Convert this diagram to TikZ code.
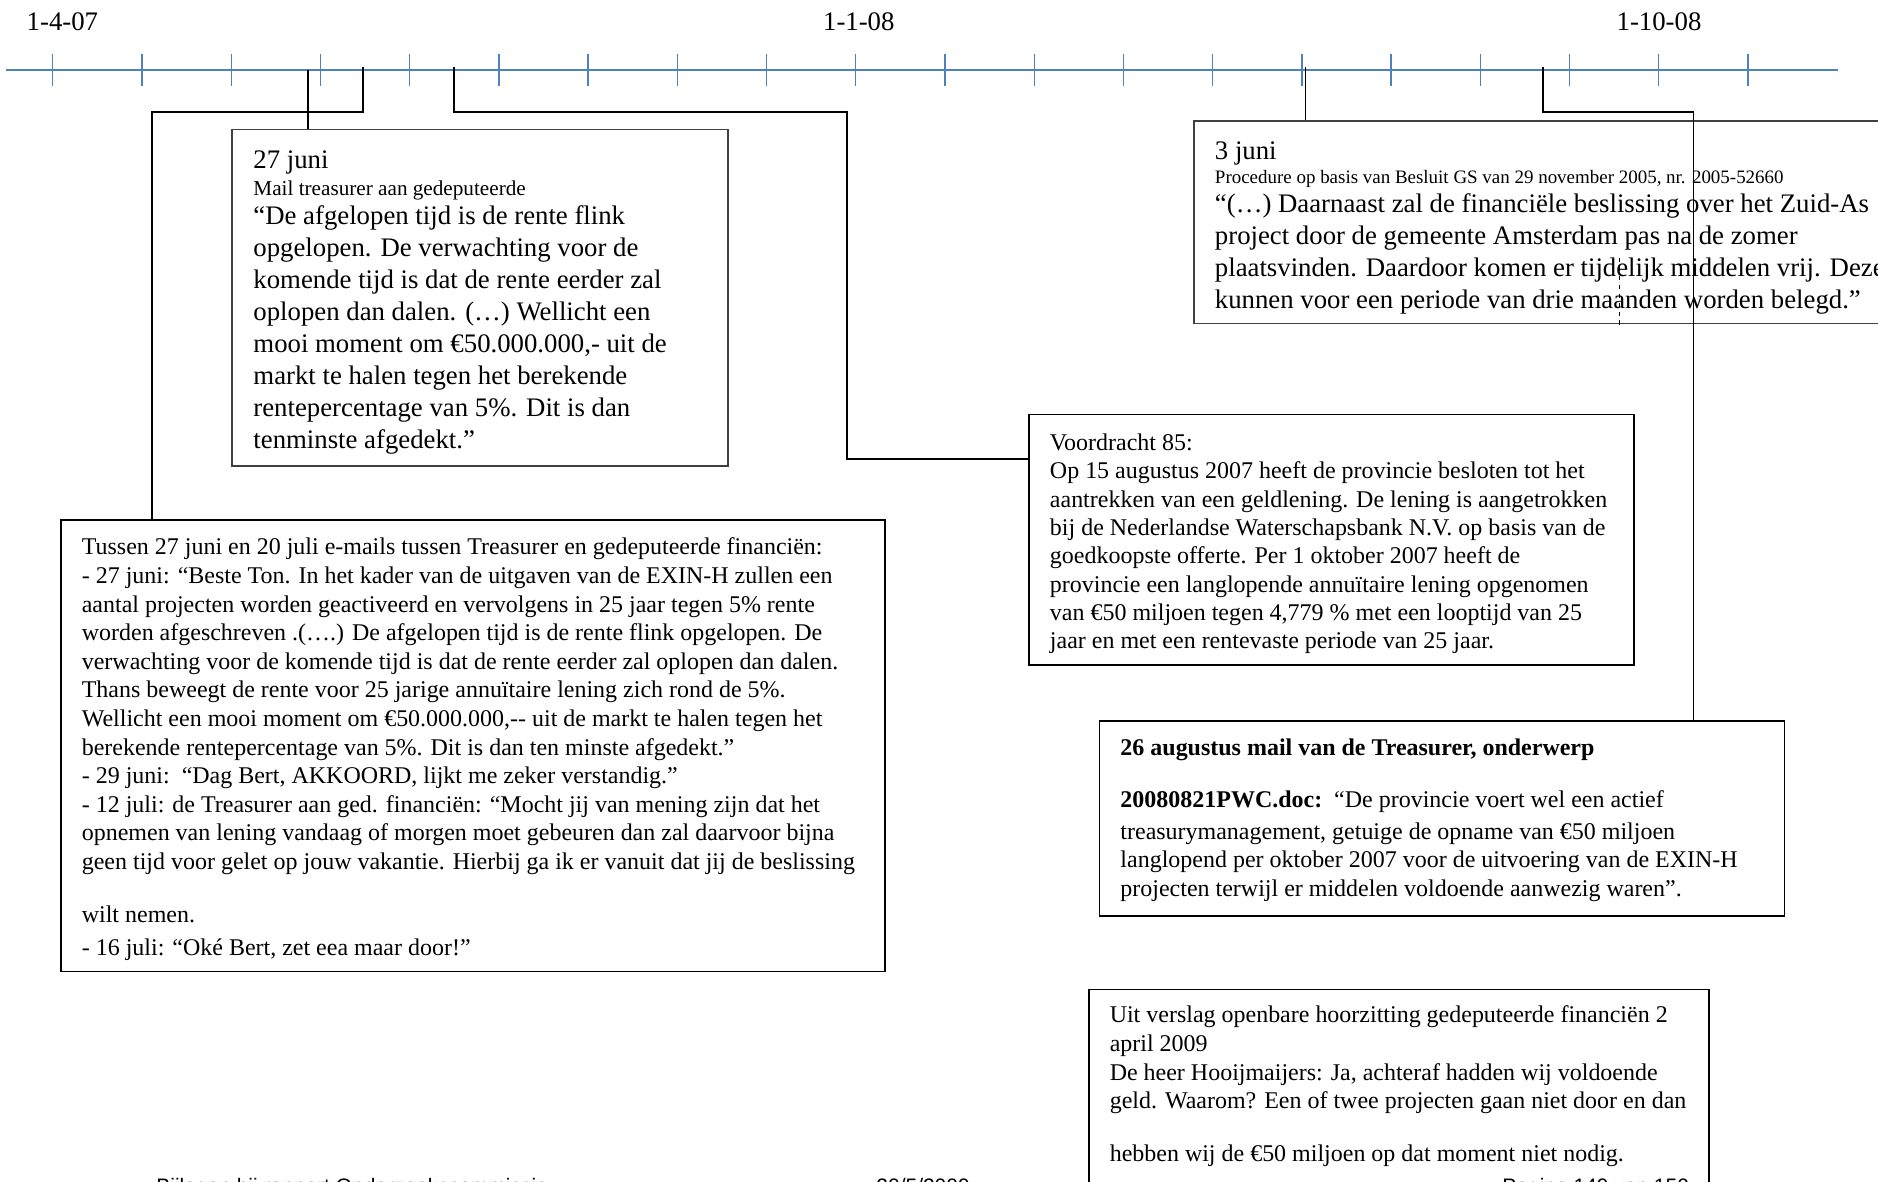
\documentclass[tikz,border=0pt]{standalone}
\usepackage{fontspec}
\setmainfont{Liberation Serif}
\setsansfont{Liberation Sans}
\usetikzlibrary{fit}
\definecolor{tlblue}{RGB}{79,129,189}
\begin{document}
\begin{tikzpicture}[x=0.44835pt,y=-0.44835pt,
  tl/.style={draw=tlblue, line width=1.1pt},
  tk/.style={draw=tlblue, line width=0.6pt},
  conn/.style={draw=black, line width=0.75pt},
  box/.style={draw=black, line width=0.75pt, inner sep=0pt},
  graybox/.style={draw=black!75, line width=0.8pt, inner sep=0pt},
  dashline/.style={draw=black, line width=0.4pt, dash pattern=on 2pt off 2pt},
  lbl/.style={inner sep=0pt, anchor=base west, font=\fontsize{12}{14.38}\selectfont},
  para/.style={inner sep=0pt, anchor=north west, align=left},
  foot/.style={inner sep=0pt, anchor=base west, font=\sffamily\fontsize{9.4}{11}\selectfont}]
\useasboundingbox (0,0) rectangle (1878,1181);
\clip (0,0) rectangle (1878,1181);

% timeline
\node[lbl] (d0) at (26.3,31) {1-4-07};
\node[lbl, anchor=base] (d9) at (858.8,31) {1-1-08};
\node[lbl, anchor=base] (d18) at (1659,31) {1-10-08};
\draw[tl] (6,70) -- (1838,70);
\foreach \i in {0,...,19} \draw[tk] ({52.8+89.22*\i},54) -- ({52.8+89.22*\i},86);

% boxes
\coordinate (b1tl) at (232.3,129.4); \coordinate (b1br) at (728.2,466);
\node[graybox, fit=(b1tl)(b1br)] (b1) {};
\coordinate (b2tl) at (61,519.8); \coordinate (b2br) at (885,971.5);
\node[box, fit=(b2tl)(b2br)] (b2) {};
\coordinate (b3tl) at (1194.1,121); \coordinate (b3br) at (1900,323.4);
\node[graybox, fit=(b3tl)(b3br)] (b3) {};
\coordinate (b4tl) at (1028.8,414.4); \coordinate (b4br) at (1633.7,664.9);
\node[box, fit=(b4tl)(b4br)] (b4) {};
\coordinate (b5tl) at (1099.5,721); \coordinate (b5br) at (1784.6,916);
\node[box, fit=(b5tl)(b5br)] (b5) {};
\coordinate (b6tl) at (1088.7,989.5); \coordinate (b6br) at (1709,1200);
\node[box, fit=(b6tl)(b6br)] (b6) {};

% box 1 text
\node[lbl] (b1d) at (253,168.5) {27 juni};
\node[lbl, font=\fontsize{9.5}{11}\selectfont] (b1s) at (253,196) {Mail treasurer aan gedeputeerde};
\node[para, font=\fontsize{12}{14.38}\selectfont] (b1q) at (253,201.45) {\strut “De afgelopen tijd is de rente flink\\
opgelopen. De verwachting voor de\\
komende tijd is dat de rente eerder zal\\
oplopen dan dalen. (…) Wellicht een\\
mooi moment om €50.000.000,- uit de\\
markt te halen tegen het berekende\\
rentepercentage van 5\%. Dit is dan\\
tenminste afgedekt.”};

% box 2 text
\node[para, font=\fontsize{10.75}{12.82}\selectfont] (b2t) at (81.4,534.4) {\strut Tussen 27 juni en 20 juli e-mails tussen Treasurer en gedeputeerde financiën:\\
- 27 juni: “Beste Ton. In het kader van de uitgaven van de EXIN-H zullen een\\
aantal projecten worden geactiveerd en vervolgens in 25 jaar tegen 5\% rente\\
worden afgeschreven .(….) De afgelopen tijd is de rente flink opgelopen. De\\
verwachting voor de komende tijd is dat de rente eerder zal oplopen dan dalen.\\
Thans beweegt de rente voor 25 jarige annuïtaire lening zich rond de 5\%.\\
Wellicht een mooi moment om €50.000.000,-{}- uit de markt te halen tegen het\\
berekende rentepercentage van 5\%. Dit is dan ten minste afgedekt.”\\
- 29 juni:\ \ “Dag Bert, AKKOORD, lijkt me zeker verstandig.”\\
- 12 juli: de Treasurer aan ged. financiën: “Mocht jij van mening zijn dat het\\
opnemen van lening vandaag of morgen moet gebeuren dan zal daarvoor bijna\\
geen tijd voor gelet op jouw vakantie. Hierbij ga ik er vanuit dat jij de beslissing};
\node[lbl, font=\fontsize{10.75}{12.82}\selectfont] (b2w) at (81.4,922.2) {wilt nemen.};
\node[lbl, font=\fontsize{10.75}{12.82}\selectfont] (b2l) at (81.4,955.8) {- 16 juli: “Oké Bert, zet eea maar door!”};

% box 3 text
\node[lbl] (b3d) at (1214.5,159.5) {3 juni};
\node[lbl, font=\fontsize{8.5}{10}\selectfont] (b3s) at (1214.5,183.5) {Procedure op basis van Besluit GS van 29 november 2005, nr. 2005-52660};
\node[para, font=\fontsize{12}{14.3}\selectfont] (b3q) at (1214.5,189.9) {\strut “(…) Daarnaast zal de financiële beslissing over het Zuid-As\\
project door de gemeente Amsterdam pas na de zomer\\
plaatsvinden. Daardoor komen er tijdelijk middelen vrij. Deze\\
kunnen voor een periode van drie maanden worden belegd.”};

% box 4 text
\node[para, font=\fontsize{10.75}{12.71}\selectfont] (b4t) at (1049.5,430.1) {\strut Voordracht 85:\\
Op 15 augustus 2007 heeft de provincie besloten tot het\\
aantrekken van een geldlening. De lening is aangetrokken\\
bij de Nederlandse Waterschapsbank N.V. op basis van de\\
goedkoopste offerte. Per 1 oktober 2007 heeft de\\
provincie een langlopende annuïtaire lening opgenomen\\
van €50 miljoen tegen 4,779 \% met een looptijd van 25\\
jaar en met een rentevaste periode van 25 jaar.};

% box 5 text
\node[lbl, font=\bfseries\fontsize{10.75}{12.85}\selectfont] (b5h) at (1120,755.8) {26 augustus mail van de Treasurer, onderwerp};
\node[lbl, font=\fontsize{10.75}{12.85}\selectfont] (b5a) at (1120,807.4) {\textbf{20080821PWC.doc:}\ \ “De provincie voert wel een actief};
\node[para, font=\fontsize{10.75}{12.85}\selectfont] (b5t) at (1120,818.8) {\strut treasurymanagement, getuige de opname van €50 miljoen\\
langlopend per oktober 2007 voor de uitvoering van de EXIN-H\\
projecten terwijl er middelen voldoende aanwezig waren”.};

% box 6 text
\node[para, font=\fontsize{10.75}{12.82}\selectfont] (b6t) at (1109.3,1002.4) {\strut Uit verslag openbare hoorzitting gedeputeerde financiën 2\\
april 2009\\
De heer Hooijmaijers: Ja, achteraf hadden wij voldoende\\
geld. Waarom? Een of twee projecten gaan niet door en dan};
\node[lbl, font=\fontsize{10.75}{12.82}\selectfont] (b6l) at (1109.3,1161) {hebben wij de €50 miljoen op dat moment niet nodig.};

% connectors
\coordinate (t1) at (307.8,70);
\draw[conn] (t1) -- (t1 |- b1.north);
\coordinate (t2) at (363,67); \coordinate (c2b) at (152,112);
\draw[conn] (t2) |- (c2b) -- (c2b |- b2.north);
\coordinate (t3) at (454,67); \coordinate (c3b) at (847,112); \coordinate (c3c) at (847,458.7);
\draw[conn] (t3) |- (c3b) -- (c3c) -- (c3c -| b4.west);
\coordinate (t4) at (1305.5,67);
\draw[conn] (t4) -- (t4 |- b3.north);
\coordinate (t5) at (1542.7,67); \coordinate (c5b) at (1693.5,112);
\draw[conn] (t5) |- (c5b) -- (c5b |- b5.north);
\coordinate (ds1) at (1619,258); \coordinate (ds2) at (1619,326);
\draw[dashline] (ds1) -- (ds2);

% footer (cut off at page bottom, as in the source page)
\node[foot] (f1) at (156,1193) {Bijlagen bij rapport Onderzoekscommissie};
\node[foot] (f2) at (876,1193) {20/5/2009};
\node[foot] (f3) at (1502,1193) {Pagina 149 van 150};
\end{tikzpicture}
\end{document}
